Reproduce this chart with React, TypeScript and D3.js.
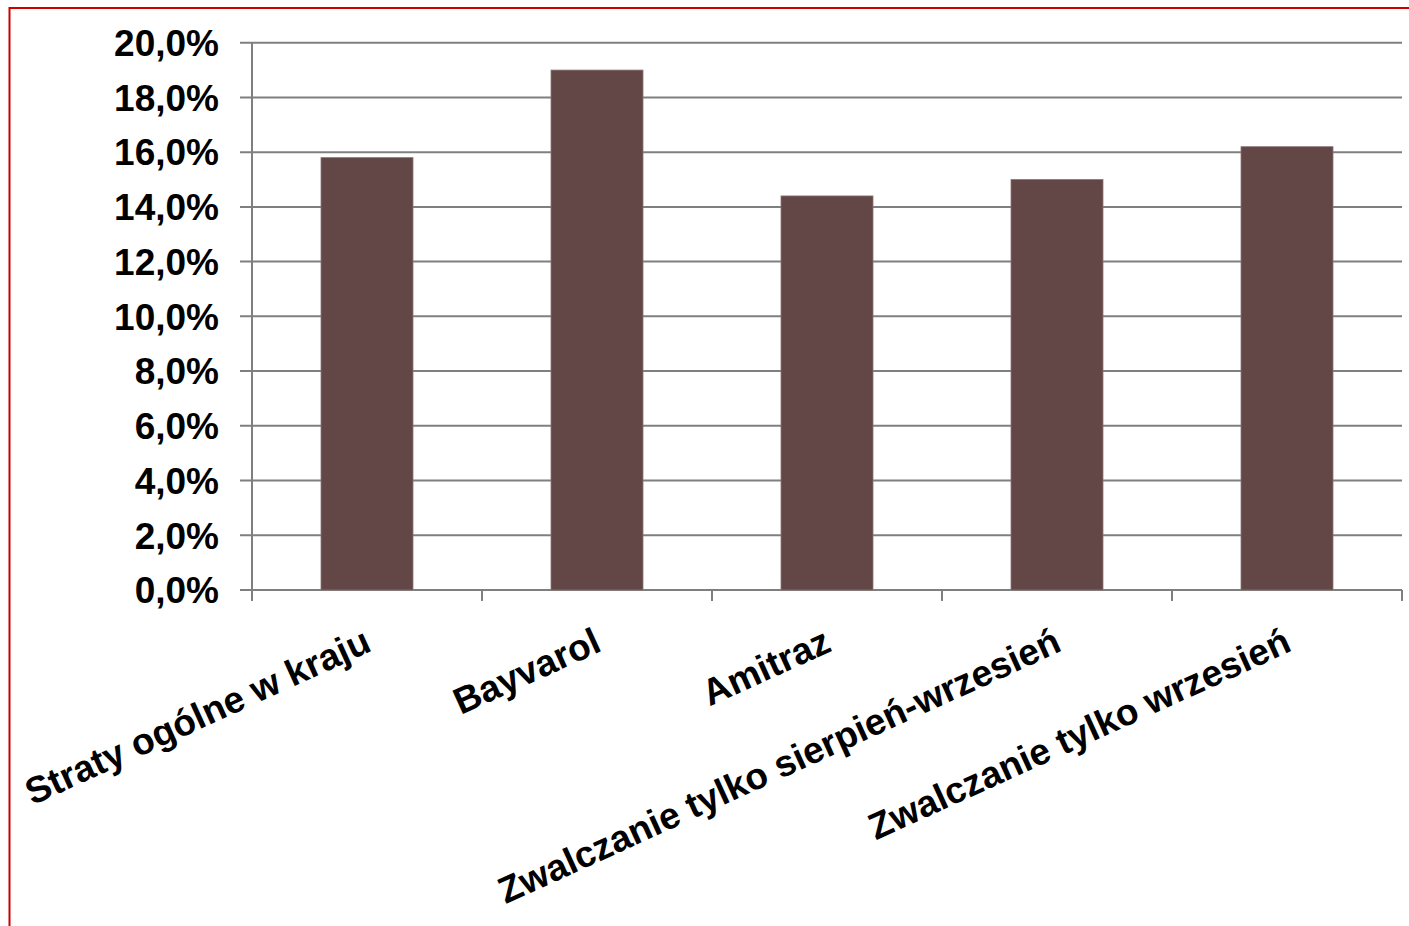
import React from "react";
import * as d3 from "d3";

const categories = [
  "Straty ogólne w kraju",
  "Bayvarol",
  "Amitraz",
  "Zwalczanie tylko sierpień-wrzesień",
  "Zwalczanie tylko wrzesień",
];
const values = [15.8, 19.0, 14.4, 15.0, 16.2];
const yTicks = [0, 2, 4, 6, 8, 10, 12, 14, 16, 18, 20];

const W = 1409;
const H = 926;
const left = 252;
const right = 1402;
const top = 42.7;
const bottom = 590;

export default function App() {
  const x = d3
    .scaleBand<string>()
    .domain(categories)
    .range([left, right])
    .paddingInner(0.6)
    .paddingOuter(0.3);
  const y = d3.scaleLinear().domain([0, 20]).range([bottom, top]);
  const step = (right - left) / categories.length;
  const fmt = (v: number) => v.toFixed(1).replace(".", ",") + "%";
  const font = "'Liberation Sans', Arial, Helvetica, sans-serif";
  const grid = "#7f7f7f";

  return (
    <svg
      width={W}
      height={H}
      style={{ position: "absolute", left: 0, top: 0, background: "#fff" }}
      fontFamily={font}
    >
      <rect x={0} y={0} width={W} height={H} fill="#fff" />
      {/* red frame */}
      <line x1={9.5} y1={8} x2={W + 5} y2={8} stroke="#cc0000" strokeWidth={2} />
      <line x1={9.5} y1={7} x2={9.5} y2={H + 5} stroke="#cc0000" strokeWidth={2} />

      {/* gridlines and y ticks */}
      {yTicks.map((t) => (
        <g key={t}>
          <line x1={240} x2={right} y1={y(t)} y2={y(t)} stroke={grid} strokeWidth={2} />
          <text
            x={219}
            y={y(t)}
            dy="0.36em"
            textAnchor="end"
            fontSize={37}
            fontWeight="bold"
            fill="#000"
          >
            {fmt(t)}
          </text>
        </g>
      ))}

      {/* y axis */}
      <line x1={left} x2={left} y1={top} y2={601} stroke={grid} strokeWidth={2} />
      {/* x ticks */}
      {d3.range(categories.length + 1).map((i) => (
        <line
          key={i}
          x1={left + i * step}
          x2={left + i * step}
          y1={bottom}
          y2={601}
          stroke={grid}
          strokeWidth={2}
        />
      ))}

      {/* bars */}
      {categories.map((c, i) => (
        <rect
          key={c}
          x={x(c)}
          y={y(values[i])}
          width={x.bandwidth()}
          height={bottom - y(values[i])}
          fill="#634747"
          stroke="#8c7474"
          strokeWidth={0.8}
        />
      ))}

      {/* x labels */}
      {categories.map((c) => {
        const cx = (x(c) as number) + x.bandwidth() / 2;
        return (
          <text
            key={c}
            transform={`translate(${cx - 5},626) rotate(-24.5)`}
            textAnchor="end"
            dy="0.72em"
            fontSize={37}
            fontWeight="bold"
            fill="#000"
          >
            {c}
          </text>
        );
      })}
    </svg>
  );
}
